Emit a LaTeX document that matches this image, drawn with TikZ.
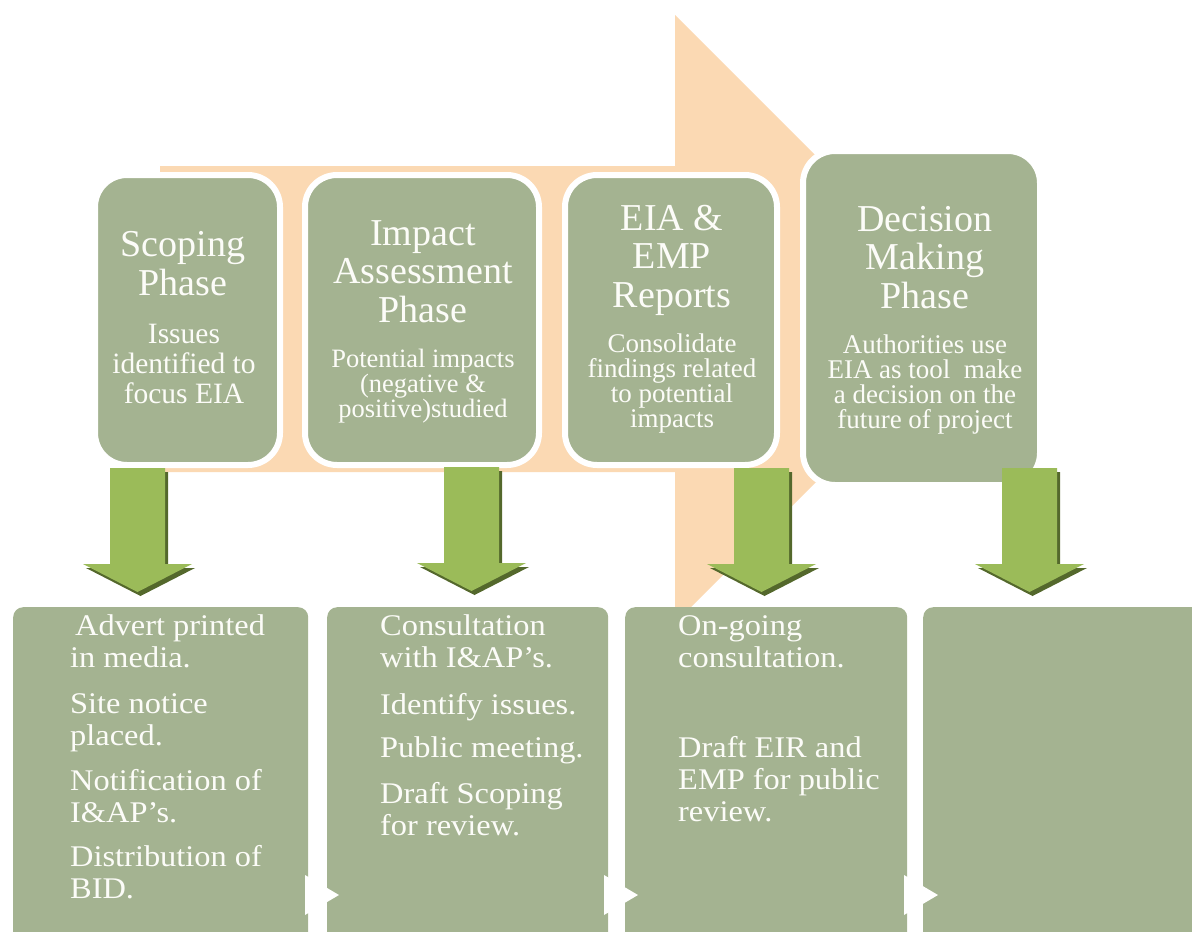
\documentclass[tikz,border=0pt]{standalone}
\usepackage{fontspec}
\setmainfont{Liberation Serif}
\newfontfamily\stepfont[FakeStretch=1.08]{Liberation Serif}
\definecolor{boxgreen}{RGB}{164,179,145}
\definecolor{arrowgreen}{RGB}{155,187,89}
\definecolor{arrowshade}{RGB}{84,104,44}
\definecolor{peach}{RGB}{251,217,179}
\definecolor{ink}{RGB}{252,252,248}

\begin{document}
\begin{tikzpicture}[x=1pt,y=-1pt,
  phasebox/.style={draw=white, line width=6pt, fill=boxgreen, rounded corners=32pt, inner sep=0pt},
  stepbox/.style={fill=boxgreen, rounded corners=10pt, inner sep=0pt, anchor=north west},
  % multi-line nodes: the base anchor sits on the baseline of the last line
  title/.style={text=ink, align=center, anchor=base, inner sep=0pt, font=\fontsize{38}{38.5}\selectfont},
  note/.style={text=ink, align=center, anchor=base, inner sep=0pt},
  item/.style={text=ink, align=left, anchor=base west, inner sep=0pt, font=\stepfont\fontsize{30}{32}\selectfont},
  downarrow/.pic={
    \fill[arrowshade] (-24.5,4) -- (30.5,4) -- (30.5,100) -- (57.5,100) -- (3,128) -- (-51.5,100) -- (-24.5,100) -- cycle;
    \fill[arrowgreen] (-27.5,0) -- (27.5,0) -- (27.5,96) -- (54.5,96) -- (0,124) -- (-54.5,96) -- (-27.5,96) -- cycle;
  }
]
\useasboundingbox (0,0) rectangle (1192,932);
\clip (0,0) rectangle (1192,932);

% the broad process arrow behind the phases
\fill[peach] (160,166) -- (675,166) -- (675,15) -- (979,319) -- (675,623) -- (675,472) -- (160,472) -- cycle;

% phase boxes
\node[phasebox, minimum width=185pt, minimum height=290pt] (t1) at (187.5,320) {};
\node[phasebox, minimum width=234pt, minimum height=290pt] (t2) at (422,320) {};
\node[phasebox, minimum width=212pt, minimum height=290pt] (t3) at (671,320) {};
\node[phasebox, minimum width=237pt, minimum height=334pt] (t4) at (921.5,318) {};

% phase titles and summaries
\node[title] (t1h) at (183,295) {Scoping\\Phase};
\node[note, font=\fontsize{29.5}{30}\selectfont] (t1s) at (184,403) {Issues\\identified to\\focus EIA};

\node[title] (t2h) at (423,322) {Impact\\Assessment\\Phase};
\node[note, font=\fontsize{26.5}{25}\selectfont] (t2s) at (423,417) {Potential impacts\\(negative \&\\positive)studied};

\node[title] (t3h) at (672,307) {EIA \&\\EMP\\Reports};
\node[note, font=\fontsize{27}{25}\selectfont] (t3s) at (672,427) {Consolidate\\findings related\\to potential\\impacts};

\node[title] (t4h) at (925,308) {Decision\\Making\\Phase};
\node[note, font=\fontsize{27}{25}\selectfont] (t4s) at (925,428) {Authorities use\\EIA as tool\ \ make\\a decision on the\\future of project};

% block arrows down to the activity boxes
\coordinate (a1) at (137.5,468);
\coordinate (a2) at (471.5,467);
\coordinate (a3) at (761.5,468);
\coordinate (a4) at (1029.5,468);
\pic at (a1) {downarrow};
\pic at (a2) {downarrow};
\pic at (a3) {downarrow};
\pic at (a4) {downarrow};

% activity boxes
\node[stepbox, minimum width=295pt, minimum height=360pt] (b1) at (13,607) {};
\node[stepbox, minimum width=281pt, minimum height=360pt] (b2) at (327,607) {};
\node[stepbox, minimum width=282pt, minimum height=360pt] (b3) at (625,607) {};
\node[stepbox, minimum width=300pt, minimum height=360pt] (b4) at (923,607) {};

% activities
\node[item] (b1p1) at (70,667) {\,Advert printed\\in media.};
\node[item] (b1p2) at (70,745) {Site notice\\placed.};
\node[item] (b1p3) at (70,822) {Notification of\\I\&AP’s.};
\node[item] (b1p4) at (70,898) {Distribution of\\BID.};

\node[item] (b2p1) at (380,667) {Consultation\\with I\&AP’s.};
\node[item] (b2p2) at (380,714) {Identify issues.};
\node[item] (b2p3) at (380,757) {Public meeting.};
\node[item] (b2p4) at (380,835) {Draft Scoping\\for review.};

\node[item] (b3p1) at (678,667) {On-going\\consultation.};
\node[item] (b3p2) at (678,821) {Draft EIR and\\EMP for public\\review.};

% flow markers between the activity boxes
\fill[white] (305,875) -- (339,895) -- (305,915) -- cycle;
\fill[white] (604,875) -- (638,895) -- (604,915) -- cycle;
\fill[white] (904,875) -- (938,895) -- (904,915) -- cycle;
\end{tikzpicture}
\end{document}
